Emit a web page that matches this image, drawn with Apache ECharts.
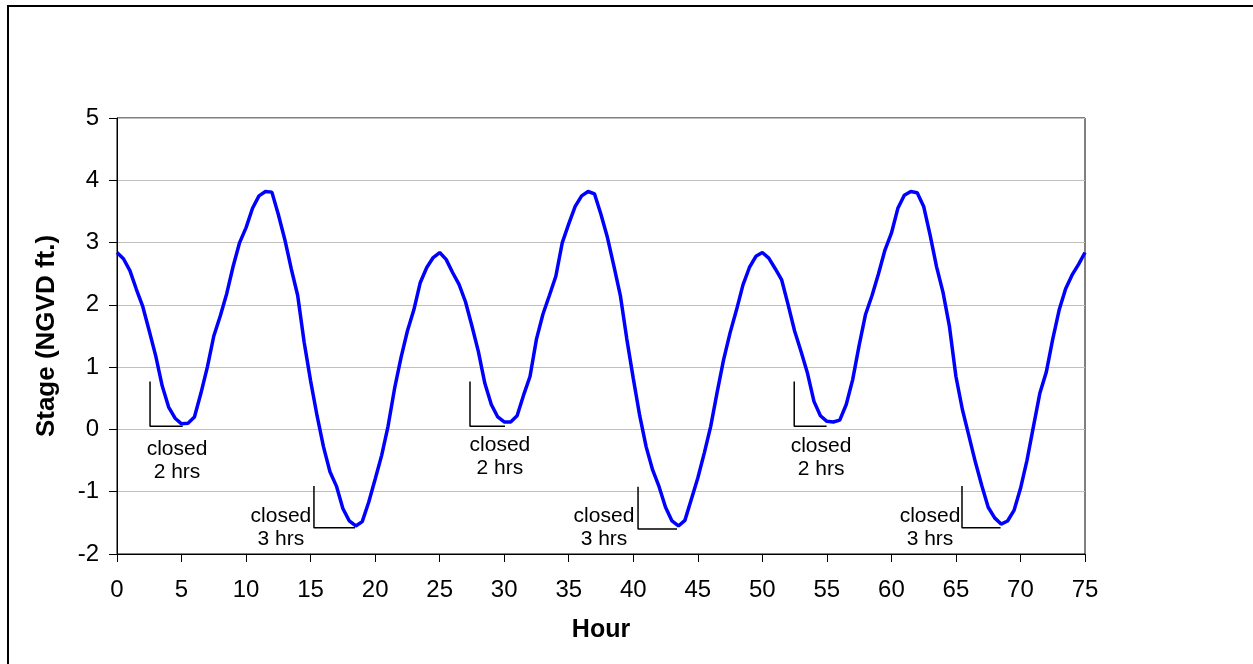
<!DOCTYPE html>
<html><head><meta charset="utf-8">
<script src="https://cdn.jsdelivr.net/npm/echarts@6/dist/echarts.min.js"></script>
<style>html,body{margin:0;padding:0;background:#fff}#c{width:1253px;height:664px}</style>
</head><body><div id="c"></div>
<script>
const hours = [0,0.5,1,1.5,2,2.5,3,3.5,4,4.5,5,5.5,6,6.5,7,7.5,8,8.5,9,9.5,10,10.5,11,11.5,12,12.5,13,13.5,14,14.5,15,15.5,16,16.5,17,17.5,18,18.5,19,19.5,20,20.5,21,21.5,22,22.5,23,23.5,24,24.5,
25,25.5,26,26.5,27,27.5,28,28.5,29,29.5,30,30.5,31,31.5,32,32.5,33,33.5,34,34.5,35,35.5,36,36.5,37,37.5,38,38.5,39,39.5,40,40.5,41,41.5,42,42.5,43,43.5,44,44.5,45,45.5,46,46.5,47,47.5,48,48.5,49,49.5,
50,50.5,51,51.5,52,52.5,53,53.5,54,54.5,55,55.5,56,56.5,57,57.5,58,58.5,59,59.5,60,60.5,61,61.5,62,62.5,63,63.5,64,64.5,65,65.5,66,66.5,67,67.5,68,68.5,69,69.5,70,70.5,71,71.5,72,72.5,73,73.5,74,74.5,75];
const stageCycle1 = [2.84,2.74,2.55,2.25,1.97,1.58,1.18,0.70,0.36,0.18,0.09,0.10,0.20,0.58,1.00,1.50,1.82,2.18,2.62,3.00,3.24,3.55,3.75,3.82,3.81,3.45,3.05,2.58,2.15,1.40,0.78,0.22,-0.28,-0.68,-0.91,-1.27,-1.47,-1.55,-1.48,-1.17,-0.80,-0.42,0.05,0.65,1.15,1.58,1.92,2.36,2.60,2.76];
const stageCycle2 = [2.84,2.73,2.52,2.33,2.05,1.66,1.25,0.74,0.40,0.20,0.12,0.12,0.22,0.55,0.85,1.45,1.85,2.15,2.46,3.00,3.30,3.58,3.75,3.82,3.78,3.45,3.08,2.62,2.15,1.45,0.82,0.22,-0.28,-0.65,-0.92,-1.25,-1.47,-1.55,-1.46,-1.12,-0.78,-0.38,0.05,0.60,1.12,1.55,1.92,2.32,2.60,2.78];
const stageCycle3 = [2.84,2.75,2.58,2.40,2.00,1.58,1.25,0.90,0.45,0.22,0.13,0.12,0.15,0.40,0.80,1.35,1.85,2.15,2.50,2.88,3.15,3.55,3.76,3.82,3.80,3.58,3.12,2.61,2.20,1.65,0.85,0.32,-0.10,-0.52,-0.90,-1.25,-1.42,-1.52,-1.47,-1.30,-0.95,-0.50,0.04,0.58,0.92,1.45,1.92,2.26,2.48,2.65,2.84];
const stage = stageCycle1.concat(stageCycle2, stageCycle3);

const xTicks = {min:0, max:75, step:5};
const yTicks = {min:-2, max:5, step:1};

const bracketCorners = [
  [[2.56,0.77],[2.56,0.05],[5.09,0.05]],
  [[15.26,-0.91],[15.26,-1.58],[18.44,-1.58]],
  [[27.35,0.77],[27.35,0.05],[30.06,0.05]],
  [[40.37,-0.92],[40.37,-1.60],[43.39,-1.60]],
  [[52.47,0.77],[52.47,0.05],[54.98,0.05]],
  [[65.47,-0.91],[65.47,-1.58],[68.46,-1.58]]
];
const noteTexts = ['closed\n2 hrs','closed\n3 hrs','closed\n2 hrs','closed\n3 hrs','closed\n2 hrs','closed\n3 hrs'];
const noteAnchors = [[4.65,-0.51],[12.7,-1.57],[29.67,-0.43],[37.73,-1.57],[54.55,-0.46],[62.99,-1.57]];

const FONT = 'Liberation Sans, Arial, sans-serif';
const chart = echarts.init(document.getElementById('c'), null, {renderer:'canvas'});
const series = [{
  type:'line', data: hours.map((h,i)=>[h, stage[i]]), showSymbol:false, symbol:'none',
  lineStyle:{color:'#0000ff', width:3.5}, smooth:false, z:5
}];
bracketCorners.forEach(b => series.push({
  type:'line', data:b, symbol:'none', lineStyle:{color:'#000', width:1.5}, z:4, silent:true
}));
series.push({
  type:'scatter', symbolSize:0, silent:true, z:6,
  itemStyle:{opacity:1},
  data: noteAnchors.map((p,i)=>({value:p, name:noteTexts[i]})),
  label:{show:true, position:'inside', formatter:p=>p.name, color:'#000', opacity:1, fontFamily:FONT, fontSize:21, lineHeight:23, align:'center', verticalAlign:'middle'}
});
chart.setOption({
  animation:false,
  backgroundColor:'#fff',
  graphic:[{type:'rect', shape:{x:8, y:6, width:1270, height:700}, style:{fill:'none', stroke:'#000', lineWidth:2}, silent:true}],
  grid:{left:117, top:118, right:168, bottom:110, show:true, borderColor:'#000', borderWidth:1, backgroundColor:'transparent'},
  xAxis:{type:'value', min:xTicks.min, max:xTicks.max, interval:xTicks.step,
    name:'Hour', nameLocation:'middle', nameGap:64,
    nameTextStyle:{fontFamily:FONT, fontSize:25, fontWeight:'bold', color:'#000'},
    axisLine:{onZero:false, lineStyle:{color:'#000', width:1}},
    axisTick:{show:true, inside:false, length:8, lineStyle:{color:'#000'}},
    axisLabel:{fontFamily:FONT, fontSize:24, color:'#000', margin:24},
    splitLine:{show:false}},
  yAxis:{type:'value', min:yTicks.min, max:yTicks.max, interval:yTicks.step,
    name:'Stage (NGVD ft.)', nameLocation:'middle', nameGap:57, nameRotate:90,
    nameTextStyle:{fontFamily:FONT, fontSize:26, fontWeight:'bold', color:'#000'},
    axisLine:{show:true, onZero:false, lineStyle:{color:'#000', width:1}},
    axisTick:{show:true, inside:false, length:8, lineStyle:{color:'#000'}},
    axisLabel:{fontFamily:FONT, fontSize:24, color:'#000', margin:18},
    splitLine:{show:true, lineStyle:{color:'#c0c0c0', width:1}}},
  series: series
});
</script></body></html>
